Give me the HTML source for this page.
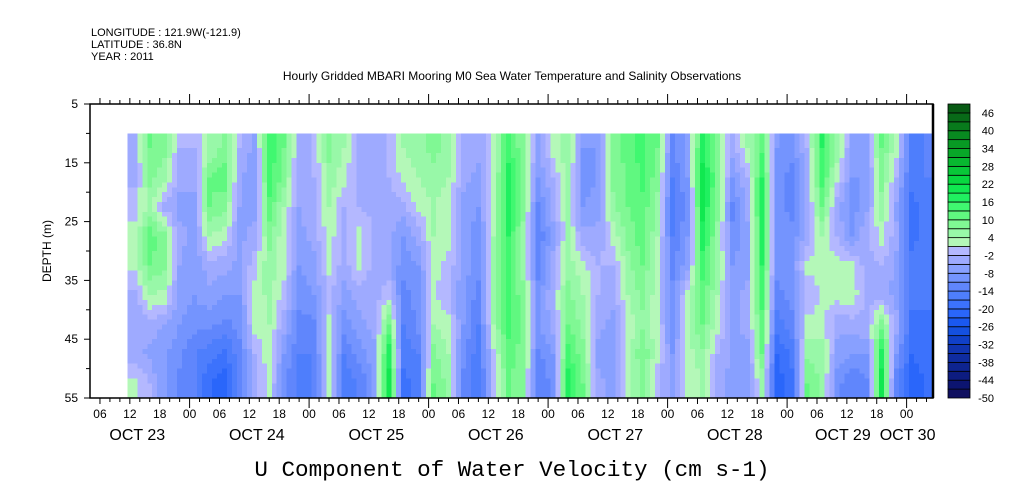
<!DOCTYPE html>
<html><head><meta charset="utf-8"><style>
body{margin:0;background:#fff;}
svg{display:block;font-family:"Liberation Sans",sans-serif;}
</style></head><body>
<svg id="chart" width="1009" height="504" viewBox="0 0 1009 504" xmlns="http://www.w3.org/2000/svg">
<g font-size="11" fill="#000">
<text x="91" y="36">LONGITUDE : 121.9W(-121.9)</text>
<text x="91" y="48">LATITUDE : 36.8N</text>
<text x="91" y="60">YEAR : 2011</text>
</g>
<text x="512" y="80" text-anchor="middle" font-size="12">Hourly Gridded MBARI Mooring M0 Sea Water Temperature and Salinity Observations</text>
<text transform="translate(51,251) rotate(-90)" text-anchor="middle" font-size="12">DEPTH (m)</text>
<text x="512" y="476" text-anchor="middle" font-family="Liberation Mono,monospace" font-size="22.6">U Component of Water Velocity (cm s-1)</text>
<g id="cells" shape-rendering="crispEdges"></g>
<g id="axes"></g>
<g id="cbar"></g>
</svg>
<script>
// hours since Oct 23 00:00 for each column start, 3-hour columns
const colStartHour = 11.5;
const colStepHours = 3;
const depthLevels = [10,15,20,25,30,35,40,45,50,55];
const uValues = [
[-3,-3,0,2,2,-3,-5,-4,2],
[10,8,5,12,10,4,-3,-6,-2],
[8,5,-3,8,8,3,-5,-8,-8],
[-2,-4,-6,-4,-5,-6,-8,-10,-12],
[-2,-4,-6,-6,-8,-8,-10,-14,-14],
[4,10,10,4,-3,-6,-10,-16,-20],
[8,12,8,2,-4,-8,-12,-18,-22],
[-2,-4,-5,-6,-6,-8,-10,-12,-14],
[-6,-8,-6,-4,0,2,2,-2,-4],
[15,15,12,8,6,5,4,3,2],
[10,8,4,2,2,0,-4,-8,-10],
[-3,-4,-5,-6,-8,-10,-12,-14,-16],
[-2,-2,-3,-4,-6,-8,-12,-14,-14],
[8,6,4,3,2,-2,2,4,2],
[4,2,-2,-3,-4,-6,-10,-14,-16],
[-3,-3,-2,2,2,-4,-6,-10,-14],
[-3,-4,-3,-2,-3,-4,-4,-6,-8],
[-2,-2,-3,-4,-4,0,10,18,20],
[4,2,-3,-8,-10,-12,-14,-16,-18],
[6,4,2,-4,-8,-10,-10,-14,-16],
[8,6,4,4,2,2,4,8,10],
[6,4,2,2,0,-2,2,4,6],
[-4,-4,-6,-6,-6,-8,-8,-10,-12],
[-4,-6,-8,-10,-10,-12,-14,-16,-16],
[2,2,2,4,4,4,4,0,-2],
[14,18,18,16,14,14,14,12,10],
[8,8,8,6,6,8,10,8,8],
[-6,-8,-12,-14,-12,-10,-8,-12,-14],
[2,-2,-4,-6,-4,-2,-4,-8,-10],
[6,6,4,4,6,8,10,14,18],
[-8,-10,-8,-4,2,4,6,8,10],
[-8,-8,-6,-4,-2,-2,-4,-6,-4],
[8,8,6,2,-2,-4,-6,-8,-6],
[12,10,10,8,6,4,2,2,2],
[14,14,12,12,10,8,6,10,8],
[10,8,6,4,2,2,2,2,-2],
[-12,-14,-16,-14,-12,-10,-10,-8,-6],
[-6,-8,-10,-8,-6,2,4,2,2],
[18,20,20,18,14,12,10,6,4],
[8,10,8,6,6,4,2,-2,-4],
[-4,-8,-12,-10,-8,-6,-6,-6,-6],
[4,-2,-4,-6,-6,-4,-4,-6,-8],
[12,16,18,16,16,14,12,10,4],
[-8,-10,-10,-10,-10,-12,-16,-20,-22],
[-10,-12,-12,-10,-8,-10,-12,-16,-18],
[-2,-4,-4,-4,2,-2,2,6,10],
[16,14,10,4,2,2,2,6,6],
[6,2,-4,-2,2,2,-4,-6,-10],
[-6,-8,-10,-8,2,4,-4,-8,-14],
[-6,-8,-6,-2,-4,-4,-2,-8,-12],
[10,8,6,2,-2,-4,8,18,20],
[2,-2,-6,-4,-6,-6,-4,-8,-14],
[-16,-16,-18,-18,-16,-16,-18,-20,-22],
[-14,-14,-16,-16,-16,-16,-18,-18,-20]
];
const dataEndHour = 173;
const levelColors = ["#101060","#0c1470","#0d1c80","#0e2490","#0f2ca0","#1034b0","#1040c8","#1450e0","#1a58f0","#2a66fa","#3c72fc","#4e7efc","#6086fc","#7494fe","#88a0ff","#9eaaff","#b4b8ff","#b4f8b8","#98f8a8","#80f894","#60f880","#40f870","#20f060","#10e850","#08d840","#08c838","#08b830","#08a828","#089a24","#088a20","#087a1c","#086a18","#085a14"];
const levelMin = -50, levelStep = 3;
const cbarLabels = [46,40,34,28,22,16,10,4,-2,-8,-14,-20,-26,-32,-38,-44,-50];
const hourTickLabels = ["06","12","18","00","06","12","18","00","06","12","18","00","06","12","18","00","06","12","18","00","06","12","18","00","06","12","18","00","06"];
const hourTickValues = [6,12,18,24,30,36,42,48,54,60,66,72,78,84,90,96,102,108,114,120,126,132,138,144,150,156,162,168,174];
const dayLabels = ["OCT 23","OCT 24","OCT 25","OCT 26","OCT 27","OCT 28","OCT 29","OCT 30"];
const dayLabelHours = [13.5,37.5,61.5,85.5,109.5,133.5,155.2,168.2];

const depthTicks = [5,15,25,35,45,55];

const NS="http://www.w3.org/2000/svg";
const X0=90,X1=933,Y0=104,Y1=398,H0=4,H1=173.3,D0=5,D1=55;
const xs=h=>X0+(h-H0)*(X1-X0)/(H1-H0);
const ys=d=>Y0+(d-D0)*(Y1-Y0)/(D1-D0);
function colorFor(v){let i=Math.floor((v-levelMin)/levelStep);i=Math.max(0,Math.min(levelColors.length-1,i));return levelColors[i];}
function mk(tag,attrs,parent){const e=document.createElementNS(NS,tag);for(const k in attrs)e.setAttribute(k,attrs[k]);parent.appendChild(e);return e;}

// bilinear sampling between cell centres for a smoother look
const nC=uValues.length,nR=uValues[0].length;
function sample(ci,ri){
  const c0=Math.max(0,Math.min(nC-1,Math.floor(ci))),c1=Math.min(nC-1,c0+1),fc=Math.max(0,Math.min(1,ci-c0));
  const r0=Math.max(0,Math.min(nR-1,Math.floor(ri))),r1=Math.min(nR-1,r0+1),fr=Math.max(0,Math.min(1,ri-r0));
  const a=uValues[c0][r0]*(1-fc)+uValues[c1][r0]*fc;
  const b=uValues[c0][r1]*(1-fc)+uValues[c1][r1]*fc;
  return a*(1-fr)+b*fr;
}
const cells=document.getElementById('cells');
const SX=3,SY=6;
for(let ci=0;ci<nC;ci++){
  for(let sx=0;sx<SX;sx++){
    const h0=colStartHour+(ci+sx/SX)*colStepHours;
    if(h0>=dataEndHour)continue;
    const h1=Math.min(h0+colStepHours/SX,dataEndHour);
    const cc=ci+(sx+0.5)/SX-0.5;
    for(let ri=0;ri<nR;ri++){
      for(let sy=0;sy<SY;sy++){
        const dA=depthLevels[ri]+(depthLevels[ri+1]-depthLevels[ri])*sy/SY;
        const dB=depthLevels[ri]+(depthLevels[ri+1]-depthLevels[ri])*(sy+1)/SY;
        const rr=ri+(sy+0.5)/SY-0.5;
        const x=xs(h0),y=ys(dA);
        const r=mk('rect',{x:x.toFixed(2),y:y.toFixed(2),width:(xs(h1)-x+0.6).toFixed(2),height:(ys(dB)-y+0.6).toFixed(2),fill:colorFor(sample(cc,rr))},cells);
        
        
      }
    }
  }
}

const ax=document.getElementById('axes');
mk('path',{d:`M${X0},${Y0}H${X1}V${Y1}H${X0}Z`,fill:"none",stroke:"#000","stroke-width":1.5},ax);
mk('line',{x1:X1,y1:Y0,x2:X1,y2:Y1,stroke:"#000","stroke-width":2.5},ax);
for(let h=6;h<=H1;h+=2){
  const x=xs(h), major=(h%24===0), mid=(h%6===0);
  const len=major?10:(mid?6:4);
  mk('line',{x1:x,y1:Y0,x2:x,y2:Y0-len,stroke:"#000"},ax);
  mk('line',{x1:x,y1:Y1,x2:x,y2:Y1+len,stroke:"#000"},ax);
}
hourTickValues.forEach((h,i)=>{
  if(h>H1)return;
  const t=mk('text',{x:xs(h),y:418,"text-anchor":"middle","font-size":12},ax);
  t.textContent=hourTickLabels[i];
  
  
});
dayLabels.forEach((s,i)=>{
  const t=mk('text',{x:xs(dayLabelHours[i]),y:440,"text-anchor":"middle","font-size":16},ax);
  t.textContent=s;
  
  
});
for(let d=5;d<=55;d+=5){
  const y=ys(d);
  mk('line',{x1:X0,y1:y,x2:X0-((d%10===5)?6:4),y2:y,stroke:"#000"},ax);
}
depthTicks.forEach(d=>{
  const t=mk('text',{x:78,y:ys(d)+4,"text-anchor":"end","font-size":12},ax);
  t.textContent=d;
  
  
});

const cb=document.getElementById('cbar');
const CX=948,CW=22,bh=(Y1-Y0)/levelColors.length;
levelColors.forEach((c,i)=>{
  const r=mk('rect',{x:CX,y:Y1-(i+1)*bh,width:CW,height:bh,fill:c,stroke:"#000","stroke-width":0.8},cb);
  
  
});
cbarLabels.forEach(v=>{
  const y=Y1-((v-levelMin)/levelStep)*bh;
  const t=mk('text',{x:994,y:y+4,"text-anchor":"end","font-size":11},cb);
  t.textContent=v;
  
  
});
</script>
</body></html>
